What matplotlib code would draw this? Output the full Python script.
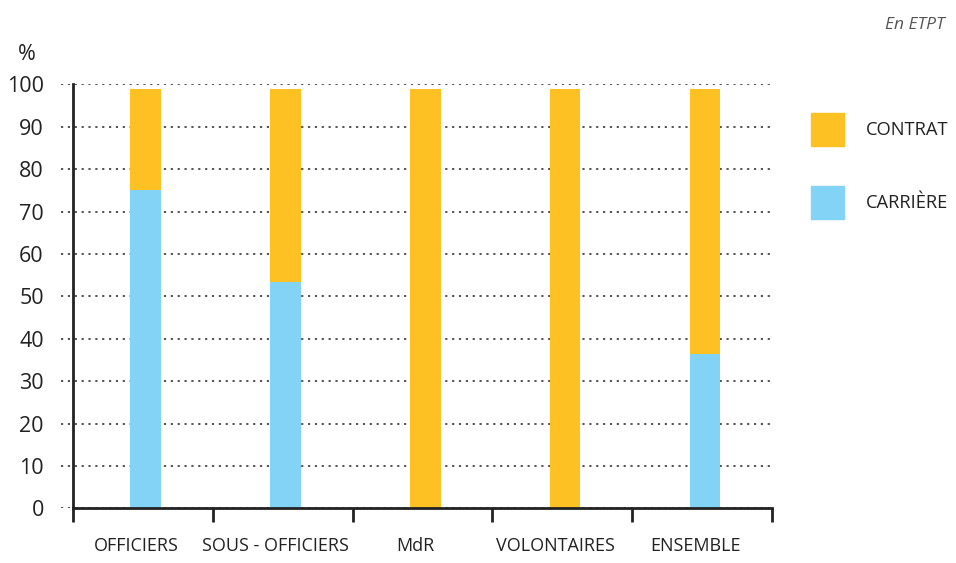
import matplotlib
matplotlib.use("Agg")
import matplotlib.pyplot as plt
from matplotlib.patches import Rectangle

# ---- data ----
categories = ["OFFICIERS", "SOUS - OFFICIERS", "MdR", "VOLONTAIRES", "ENSEMBLE"]
carriere = [75.1, 53.4, 0.0, 0.0, 36.5]
contrat = [23.7, 45.4, 98.8, 98.8, 62.3]
y_ticks = [0, 10, 20, 30, 40, 50, 60, 70, 80, 90, 100]

col_contrat = "#FEC123"
col_carriere = "#82D3F6"
ink = "#222222"

plt.rcParams["font.family"] = ["Open Sans", "DejaVu Sans"]

W, H = 956, 563
fig = plt.figure(figsize=(W / 100, H / 100), dpi=100)
ax = fig.add_axes([61 / W, (H - 508.3) / H, (772 - 61) / W, (508.3 - 84.3) / H])

x = list(range(len(categories)))
xb = [i + 0.02 for i in x]  # bars sit slightly right of the slot centre
ax.bar(xb, carriere, width=0.22, color=col_carriere, zorder=3)
ax.bar(xb, contrat, width=0.22, bottom=carriere, color=col_contrat, zorder=3)

ax.set_xlim(-0.586, 4.5)
ax.set_ylim(0, 100)

# dotted gridlines
for v in y_ticks:
    ax.axhline(v, color="#444444", lw=1.3, linestyle=(0, (1.2, 2.6)), zorder=1)

for s in ["top", "right"]:
    ax.spines[s].set_visible(False)
ax.spines["left"].set_position(("data", -0.5))
ax.spines["left"].set_color(ink)
ax.spines["left"].set_linewidth(2)
ax.spines["bottom"].set_bounds(-0.5, 4.5)
ax.spines["bottom"].set_color(ink)
ax.spines["bottom"].set_linewidth(2)
ax.spines["bottom"].set_zorder(4)

ax.set_yticks(y_ticks)
ax.set_yticklabels([str(v) for v in y_ticks], fontsize=15.5, color=ink)
ax.tick_params(axis="y", length=0, pad=21)

# boundary ticks and category labels (labels sit a little left of centre)
ax.set_xticks([i - 0.5 for i in range(len(categories) + 1)])
ax.set_xticklabels([])
ax.tick_params(axis="x", which="major", direction="out", length=10, width=2, color=ink)
ax.set_xticks([i - 0.05 for i in x], minor=True)
ax.set_xticklabels(categories, minor=True, fontsize=13, color=ink)
ax.tick_params(axis="x", which="minor", length=0, pad=21)

fig.text(27 / W, 1 - 54 / H, "%", fontsize=15.5, color=ink, ha="center", va="center")
fig.text(945 / W, 1 - 25 / H, "En ETPT", fontsize=12.5, style="italic", color="#555555",
         ha="right", va="center")

# legend
for label, col, ytop in [("CONTRAT", col_contrat, 113), ("CARRIÈRE", col_carriere, 186)]:
    fig.patches.append(Rectangle((811 / W, 1 - (ytop + 33) / H), 33 / W, 33 / H,
                                 transform=fig.transFigure, color=col, figure=fig))
    fig.text(866 / W, 1 - (ytop + 17) / H, label, fontsize=13.2, color=ink, va="center")

fig.savefig("out.png", dpi=100)
